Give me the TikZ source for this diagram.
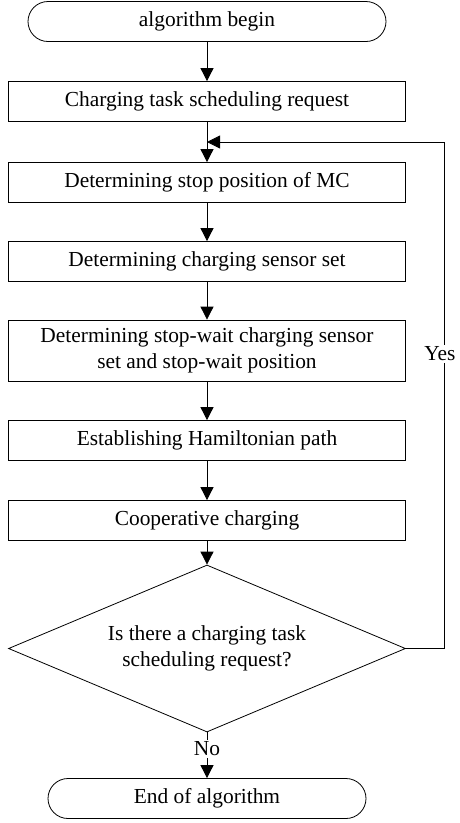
\documentclass[tikz,border=0pt]{standalone}
\usepackage{fontspec}
\setmainfont{Liberation Serif}
\usetikzlibrary{shapes.geometric,arrows.meta}

\begin{document}
\begin{tikzpicture}[x=1pt,y=-1pt,
  txt/.style={font=\fontsize{21.4}{25.5}\selectfont},
  base/.style={draw, line width=0.8pt, txt, align=center, inner sep=0pt},
  proc/.style={base, minimum width=397pt, minimum height=40pt},
  term/.style={base, rounded corners=20pt, minimum height=40pt},
  dec/.style={base, diamond, aspect=2.38, minimum width=397pt, minimum height=167pt},
  flow/.style={line width=0.8pt, -{Triangle[length=13pt,width=13pt]}},
  tag/.style={txt, fill=white, inner sep=1.5pt}]
\useasboundingbox (0,0) rectangle (459,823);

% process steps
\node[term, minimum width=358pt] (start) at (207,21.5) {algorithm begin};
\node[proc] (req)  at (207,101.5) {Charging task scheduling request};
\node[proc] (stop) at (207,182.5) {Determining stop position of MC};
\node[proc] (set)  at (207,261.5) {Determining charging sensor set};
\node[proc, minimum height=61pt] (wait) at (207,350.5) {Determining stop-wait charging sensor\\set and stop-wait position};
\node[proc] (ham)  at (207,440.5) {Establishing Hamiltonian path};
\node[proc] (coop) at (207,520.5) {Cooperative charging};
\node[dec]  (ask)  at (207,648.5) {Is there a charging task\\scheduling request?};
\node[term, minimum width=318pt] (fin) at (207,798.5) {End of algorithm};

% loop-back route
\coordinate (join) at (207,142);
\coordinate (loop) at (444,142);

% main flow
\draw[flow] (start) -- (req);
\draw[flow] (req) -- (stop);
\draw[flow] (stop) -- (set);
\draw[flow] (set) -- (wait);
\draw[flow] (wait) -- (ham);
\draw[flow] (ham) -- (coop);
\draw[flow] (coop) -- (ask);
\draw[flow] (ask) -- (fin);

% repeat while requests remain
\draw[flow] (ask.east) -| (loop) -- (join);

% branch labels
\node[tag] (yes) at (440,354) {Yes};
\node[tag] (no)  at (207,749) {No};
\end{tikzpicture}
\end{document}
